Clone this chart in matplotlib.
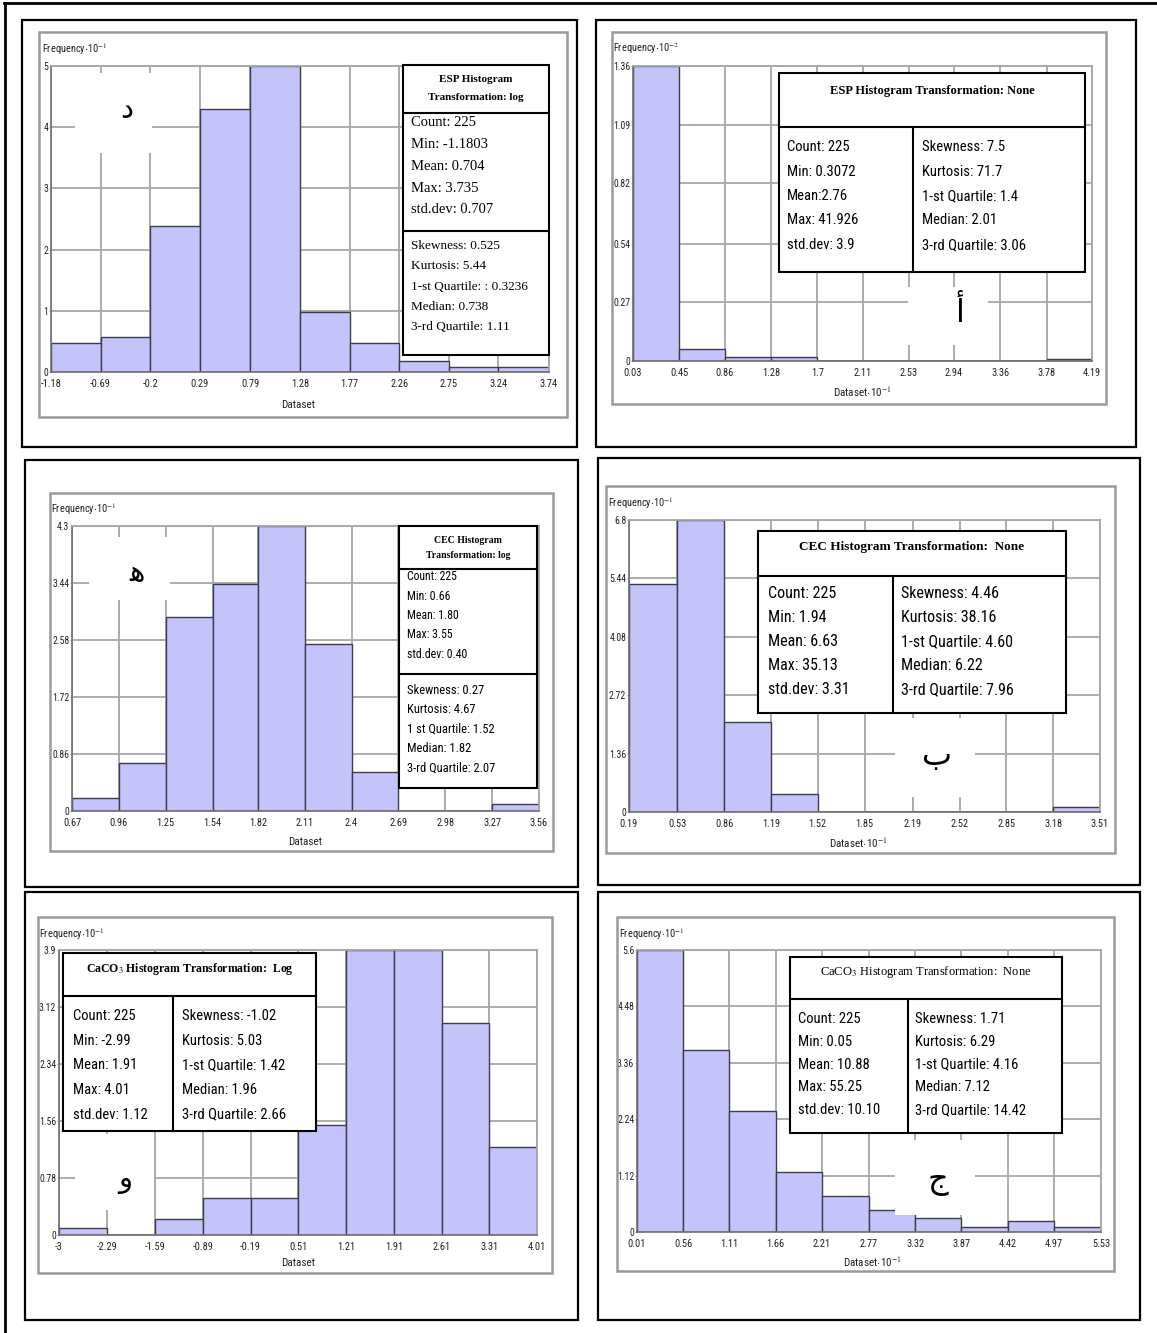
import numpy as np
import matplotlib
matplotlib.use('Agg')
import matplotlib.pyplot as plt
from matplotlib.patches import Rectangle
from matplotlib.lines import Line2D
from matplotlib import font_manager as fm

# ---------------- data ----------------
esp_log_edges = [-1.18, -0.69, -0.2, 0.29, 0.79, 1.28, 1.77, 2.26, 2.75, 3.24, 3.74]
esp_log_xlabels = ['-1.18', '-0.69', '-0.2', '0.29', '0.79', '1.28', '1.77', '2.26', '2.75', '3.24', '3.74']
esp_log_freq = [0.48, 0.575, 2.39, 4.29, 5.0, 0.98, 0.48, 0.18, 0.08, 0.08]
esp_log_yticks = [0, 1, 2, 3, 4, 5]
esp_log_ylabels = ['0', '1', '2', '3', '4', '5']

esp_none_edges = [0.03, 0.45, 0.86, 1.28, 1.7, 2.11, 2.53, 2.94, 3.36, 3.78, 4.19]
esp_none_xlabels = ['0.03', '0.45', '0.86', '1.28', '1.7', '2.11', '2.53', '2.94', '3.36', '3.78', '4.19']
esp_none_freq = [1.36, 0.057, 0.018, 0.018, 0, 0, 0, 0, 0, 0.008]
esp_none_yticks = [0, 0.27, 0.54, 0.82, 1.09, 1.36]
esp_none_ylabels = ['0', '0.27', '0.54', '0.82', '1.09', '1.36']

cec_log_edges = [0.67, 0.96, 1.25, 1.54, 1.82, 2.11, 2.4, 2.69, 2.98, 3.27, 3.56]
cec_log_xlabels = ['0.67', '0.96', '1.25', '1.54', '1.82', '2.11', '2.4', '2.69', '2.98', '3.27', '3.56']
cec_log_freq = [0.20, 0.717, 2.92, 3.42, 4.3, 2.52, 0.59, 0, 0, 0.11]
cec_log_yticks = [0, 0.86, 1.72, 2.58, 3.44, 4.3]
cec_log_ylabels = ['0', '0.86', '1.72', '2.58', '3.44', '4.3']

cec_none_edges = [0.19, 0.53, 0.86, 1.19, 1.52, 1.85, 2.19, 2.52, 2.85, 3.18, 3.51]
cec_none_xlabels = ['0.19', '0.53', '0.86', '1.19', '1.52', '1.85', '2.19', '2.52', '2.85', '3.18', '3.51']
cec_none_freq = [5.31, 6.8, 2.10, 0.41, 0, 0, 0, 0, 0, 0.12]
cec_none_yticks = [0, 1.36, 2.72, 4.08, 5.44, 6.8]
cec_none_ylabels = ['0', '1.36', '2.72', '4.08', '5.44', '6.8']

caco3_log_edges = [-3, -2.29, -1.59, -0.89, -0.19, 0.51, 1.21, 1.91, 2.61, 3.31, 4.01]
caco3_log_xlabels = ['-3', '-2.29', '-1.59', '-0.89', '-0.19', '0.51', '1.21', '1.91', '2.61', '3.31', '4.01']
caco3_log_freq = [0.09, 0, 0.214, 0.50, 0.50, 1.505, 3.9, 3.9, 2.90, 1.21]
caco3_log_yticks = [0, 0.78, 1.56, 2.34, 3.12, 3.9]
caco3_log_ylabels = ['0', '0.78', '1.56', '2.34', '3.12', '3.9']

caco3_none_edges = [0.01, 0.56, 1.11, 1.66, 2.21, 2.77, 3.32, 3.87, 4.42, 4.97, 5.53]
caco3_none_xlabels = ['0.01', '0.56', '1.11', '1.66', '2.21', '2.77', '3.32', '3.87', '4.42', '4.97', '5.53']
caco3_none_freq = [5.6, 3.62, 2.40, 1.20, 0.71, 0.44, 0.28, 0.09, 0.21, 0.09]
caco3_none_yticks = [0, 1.12, 2.24, 3.36, 4.48, 5.6]
caco3_none_ylabels = ['0', '1.12', '2.24', '3.36', '4.48', '5.6']

esp_log_title = ['ESP Histogram', 'Transformation: log']
esp_log_stats_a = ['Count: 225', 'Min: -1.1803', 'Mean: 0.704', 'Max: 3.735', 'std.dev: 0.707']
esp_log_stats_b = ['Skewness: 0.525', 'Kurtosis: 5.44', '1-st Quartile: : 0.3236', 'Median: 0.738', '3-rd Quartile: 1.11']

esp_none_title = 'ESP Histogram Transformation: None'
esp_none_stats_a = ['Count: 225', 'Min: 0.3072', 'Mean:2.76', 'Max: 41.926', 'std.dev: 3.9']
esp_none_stats_b = ['Skewness: 7.5', 'Kurtosis: 71.7', '1-st Quartile: 1.4', 'Median: 2.01', '3-rd Quartile: 3.06']

cec_log_title = ['CEC Histogram', 'Transformation: log']
cec_log_stats_a = ['Count: 225', 'Min: 0.66', 'Mean: 1.80', 'Max: 3.55', 'std.dev: 0.40']
cec_log_stats_b = ['Skewness: 0.27', 'Kurtosis: 4.67', '1 st Quartile: 1.52', 'Median: 1.82', '3-rd Quartile: 2.07']

cec_none_title = 'CEC Histogram Transformation:  None'
cec_none_stats_a = ['Count: 225', 'Min: 1.94', 'Mean: 6.63', 'Max: 35.13', 'std.dev: 3.31']
cec_none_stats_b = ['Skewness: 4.46', 'Kurtosis: 38.16', '1-st Quartile: 4.60', 'Median: 6.22', '3-rd Quartile: 7.96']

caco3_log_title = r'CaCO$_3$ Histogram Transformation:  Log'
caco3_log_stats_a = ['Count: 225', 'Min: -2.99', 'Mean: 1.91', 'Max: 4.01', 'std.dev: 1.12']
caco3_log_stats_b = ['Skewness: -1.02', 'Kurtosis: 5.03', '1-st Quartile: 1.42', 'Median: 1.96', '3-rd Quartile: 2.66']

caco3_none_title = r'CaCO$_3$ Histogram Transformation:  None'
caco3_none_stats_a = ['Count: 225', 'Min: 0.05', 'Mean: 10.88', 'Max: 55.25', 'std.dev: 10.10']
caco3_none_stats_b = ['Skewness: 1.71', 'Kurtosis: 6.29', '1-st Quartile: 4.16', 'Median: 7.12', '3-rd Quartile: 14.42']

panel_letters = ['د', 'أ', 'ﻫ', 'ب', 'و', 'ج']

# ---------------- fonts ----------------
avail = {f.name for f in fm.fontManager.ttflist}
def pick(*names):
    for n in names:
        if n in avail:
            return n
    return 'DejaVu Sans'

NARROW = pick('Liberation Sans Narrow', 'Roboto Condensed', 'DejaVu Sans Condensed', 'Liberation Sans')
SERIF = pick('Liberation Serif', 'DejaVu Serif')
ARABIC = 'DejaVu Sans'
plt.rcParams['mathtext.fontset'] = 'stix'

W, H = 1157, 1333
fig = plt.figure(figsize=(W / 100, H / 100), dpi=100)
fig.patch.set_facecolor('white')

BAR = '#c4c4fa'
EDGE = '#3c3c4c'
GRID = '#a6a6a6'


def fx(x):
    return x / W


def fy(y):
    return 1 - y / H


def frect(x0, y0, x1, y1, **kw):
    r = Rectangle((fx(x0), fy(y1)), (x1 - x0) / W, (y1 - y0) / H,
                  transform=fig.transFigure, **kw)
    fig.add_artist(r)


def fline(x0, y0, x1, y1, **kw):
    fig.add_artist(Line2D([fx(x0), fx(x1)], [fy(y0), fy(y1)],
                          transform=fig.transFigure, **kw))


def ftext(x, y, s, **kw):
    fig.text(fx(x), fy(y), s, **kw)


def hist_panel(box, frame, axpx, edges, freq, xlabels, yticks, ylabels,
               ylab, ylabpos, xlab, xlabpos):
    frect(*box, fill=False, edgecolor='black', lw=1.6, zorder=1)
    frect(*frame, fill=False, edgecolor='#9a9a9a', lw=1.8, zorder=1)
    x0, y0, x1, y1 = axpx
    ax = fig.add_axes([fx(x0), fy(y1), (x1 - x0) / W, (y1 - y0) / H])
    e = np.asarray(edges, dtype=float)
    ax.bar(e[:-1], freq, width=np.diff(e), align='edge', color=BAR,
           edgecolor=EDGE, linewidth=1.0, zorder=2)
    ax.set_xlim(e[0], e[-1])
    ax.set_ylim(0, yticks[-1])
    ax.set_xticks(e)
    ax.set_xticklabels(xlabels)
    ax.set_yticks(yticks)
    ax.set_yticklabels(ylabels)
    ax.set_axisbelow(True)
    ax.grid(True, color=GRID, lw=1.3)
    for s in ['top', 'right']:
        ax.spines[s].set_color(GRID)
        ax.spines[s].set_linewidth(1.3)
    for s in ['left', 'bottom']:
        ax.spines[s].set_color('#6e6e6e')
        ax.spines[s].set_linewidth(1.2)
    ax.tick_params(axis='x', length=0, pad=5, labelsize=7.5, labelcolor='#222222')
    ax.tick_params(axis='y', length=1.5, color=GRID, pad=0.5, labelsize=7,
                   labelcolor='#222222')
    for lab in ax.get_xticklabels() + ax.get_yticklabels():
        lab.set_fontfamily(NARROW)
    ftext(ylabpos[0], ylabpos[1], ylab, fontfamily=NARROW, fontsize=7.5,
          va='center', ha='left', color='#222222')
    ftext(xlabpos[0], xlabpos[1], xlab, fontfamily=NARROW, fontsize=8,
          va='center', ha='center', color='#222222')
    return ax


def letter(ch, pos, patch, size=21):
    frect(*patch, facecolor='white', edgecolor='none', zorder=1)
    ftext(pos[0], pos[1], ch, fontfamily=ARABIC, fontsize=size,
          ha='center', va='center', zorder=4)


def stacked_box(box, d1, d2, title, title_ys, tsize, cx, tx,
                a, ay, astep, asize, b, by, bstep, bsize, fam):
    frect(*box, facecolor='white', edgecolor='black', lw=1.5, zorder=2)
    fline(box[0], d1, box[2], d1, color='black', lw=1.5, zorder=2.5)
    fline(box[0], d2, box[2], d2, color='black', lw=1.5, zorder=2.5)
    for s, y in zip(title, title_ys):
        ftext(cx, y, s, fontfamily=SERIF, fontweight='bold', fontsize=tsize,
              ha='center', va='center')
    for i, s in enumerate(a):
        ftext(tx, ay + i * astep, s, fontfamily=fam, fontsize=asize,
              ha='left', va='center')
    for i, s in enumerate(b):
        ftext(tx, by + i * bstep, s, fontfamily=fam, fontsize=bsize,
              ha='left', va='center')


def column_box(box, tbot, div, title, ty, tsize, tweight, lx, rx,
               a, b, y0, step, size):
    frect(*box, facecolor='white', edgecolor='black', lw=1.5, zorder=2)
    fline(box[0], tbot, box[2], tbot, color='black', lw=1.5, zorder=2.5)
    fline(div, tbot, div, box[3], color='black', lw=1.5, zorder=2.5)
    ftext((box[0] + box[2]) / 2, ty, title, fontfamily=SERIF,
          fontweight=tweight, fontsize=tsize, ha='center', va='center')
    for i, s in enumerate(a):
        ftext(lx, y0 + i * step, s, fontfamily=NARROW, fontsize=size,
              ha='left', va='center')
    for i, s in enumerate(b):
        ftext(rx, y0 + i * step, s, fontfamily=NARROW, fontsize=size,
              ha='left', va='center')


FREQ1 = r'Frequency$\cdot$10$^{-1}$'
FREQ2 = r'Frequency$\cdot$10$^{-2}$'
DS = 'Dataset'
DS1 = r'Dataset$\cdot$10$^{-1}$'

# outer frame (top and left)
fline(4, 3, 1157, 3, color='black', lw=2)
fline(5.5, 3, 5.5, 1333, color='black', lw=2)

# Panel 1: ESP log
hist_panel((22, 20, 577, 447), (39, 32, 567, 417), (51, 66, 549, 372),
           esp_log_edges, esp_log_freq, esp_log_xlabels, esp_log_yticks,
           esp_log_ylabels, FREQ1, (42, 49), DS, (298, 405))
stacked_box((403, 65, 549, 355), 113, 231, esp_log_title, (80, 97), 8, 476, 411,
            esp_log_stats_a, 123, 21.7, 10.5, esp_log_stats_b, 246, 20.3, 9.5, SERIF)
letter(panel_letters[0], (127, 110), (75, 73, 152, 153))

# Panel 2: ESP none
hist_panel((596, 20, 1136, 447), (612, 32, 1106, 404), (633, 66, 1092, 361),
           esp_none_edges, esp_none_freq, esp_none_xlabels, esp_none_yticks,
           esp_none_ylabels, FREQ2, (613, 49), DS1, (862, 392))
column_box((779, 73, 1085, 272), 127, 913, esp_none_title, 91, 9, 'bold',
           787, 922, esp_none_stats_a, esp_none_stats_b, 147, 24.5, 10.5)
letter(panel_letters[1], (960, 313), (908, 287, 988, 345), size=23)

# Panel 3: CEC log
hist_panel((25, 460, 578, 887), (50, 493, 553, 851), (72, 526, 539, 811),
           cec_log_edges, cec_log_freq, cec_log_xlabels, cec_log_yticks,
           cec_log_ylabels, FREQ1, (51, 509), DS, (305, 842))
stacked_box((399, 526, 537, 788), 569, 674, cec_log_title, (541, 555), 7, 468, 407,
            cec_log_stats_a, 577, 19.3, 8.5, cec_log_stats_b, 690, 19.5, 9, NARROW)
letter(panel_letters[2], (137, 573), (89, 537, 170, 600))

# Panel 4: CEC none
hist_panel((598, 458, 1140, 885), (606, 486, 1115, 853), (629, 520, 1100, 812),
           cec_none_edges, cec_none_freq, cec_none_xlabels, cec_none_yticks,
           cec_none_ylabels, FREQ1, (608, 503), DS1, (858, 843))
column_box((758, 531, 1066, 713), 576, 893, cec_none_title, 547, 9.5, 'bold',
           768, 901, cec_none_stats_a, cec_none_stats_b, 594, 24, 11.5)
letter(panel_letters[3], (937, 757), (895, 718, 975, 797), size=23)

# Panel 5: CaCO3 log
hist_panel((25, 892, 578, 1320), (38, 917, 552, 1273), (59, 950, 537, 1235),
           caco3_log_edges, caco3_log_freq, caco3_log_xlabels, caco3_log_yticks,
           caco3_log_ylabels, FREQ1, (39, 934), DS, (298, 1263))
column_box((63, 953, 316, 1131), 996, 173, caco3_log_title, 969, 8.5, 'bold',
           73, 182, caco3_log_stats_a, caco3_log_stats_b, 1016, 24.7, 10.5)
letter(panel_letters[4], (125, 1180), (75, 1134, 154, 1210))

# Panel 6: CaCO3 none
hist_panel((598, 892, 1140, 1320), (617, 917, 1114, 1271), (637, 950, 1101, 1232),
           caco3_none_edges, caco3_none_freq, caco3_none_xlabels, caco3_none_yticks,
           caco3_none_ylabels, FREQ1, (619, 934), DS1, (872, 1262))
column_box((790, 957, 1062, 1133), 999, 908, caco3_none_title, 972, 9, 'normal',
           798, 915, caco3_none_stats_a, caco3_none_stats_b, 1019, 22.8, 10.5)
letter(panel_letters[5], (938, 1180), (895, 1140, 975, 1215), size=23)

fig.savefig('out.png', dpi=100)
